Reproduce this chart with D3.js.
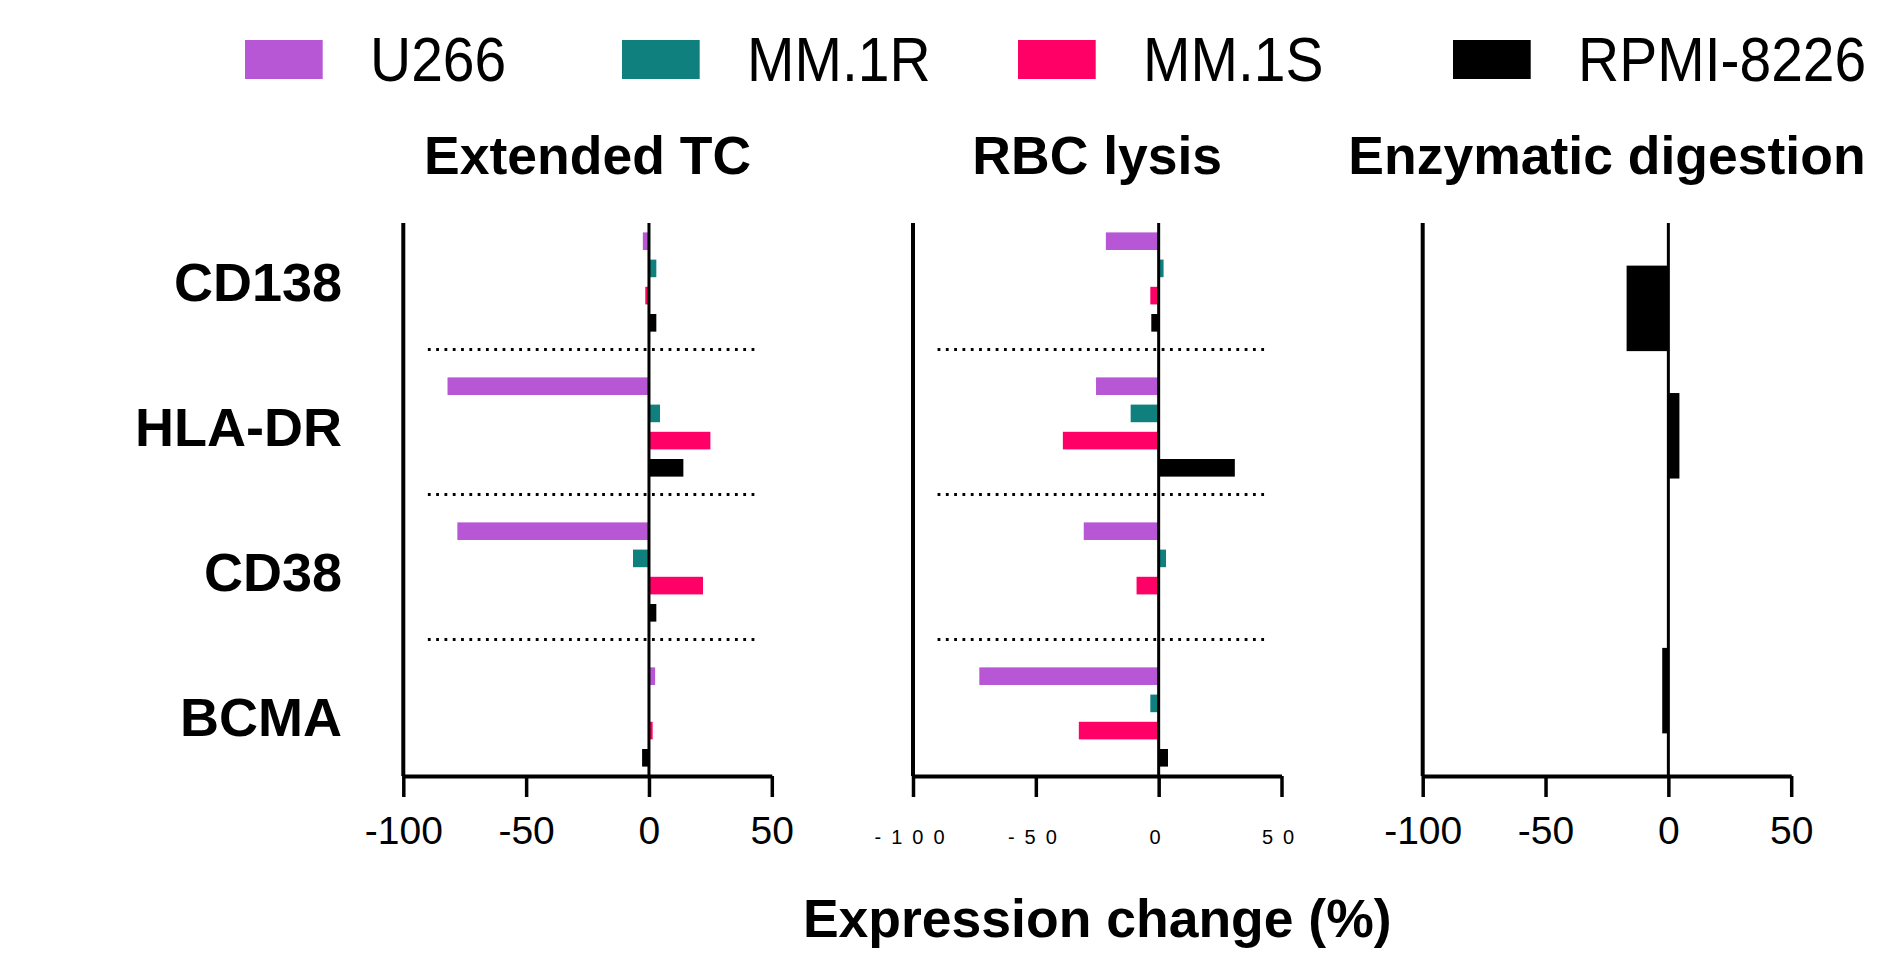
<!DOCTYPE html>
<html>
<head>
<meta charset="utf-8">
<script src="https://cdn.jsdelivr.net/npm/d3@7"></script>
<style>
  body { margin: 0; background: #fff; }
  svg text { font-family: "Liberation Sans", Arial, sans-serif; fill: #000; }
</style>
</head>
<body>
<div id="vis"></div>
<script>
// data
var categories = ['CD138', 'HLA-DR', 'CD38', 'BCMA'];
var series = ['U266', 'MM.1R', 'MM.1S', 'RPMI-8226'];
var colors = ['#B857D6', '#10807E', '#FF0066', '#000000'];
var panelTitles = ['Extended TC', 'RBC lysis', 'Enzymatic digestion'];
var tickValues = [-100, -50, 0, 50];

// rows = categories, columns = series
var extendedTC = [
    [-2.5, 3, -1.5, 3],
    [-82, 4.5, 25, 14],
    [-78, -6.5, 22, 3],
    [2.5, 0, 1.5, -2.8]
];
var rbcLysis = [
    [-21.5, 2, -3.4, -3],
    [-25.5, -11.4, -39, 31],
    [-30.5, 3, -9, 0],
    [-73, -3.4, -32.5, 3.8]
];
// only RPMI-8226 was measured after enzymatic digestion
var enzymaticRPMI = [-17, 4.5, 0, -2.5];

var width = 1883, height = 953,
    plotTop = 223, plotBottom = 776,
    panelLeft = 403.3, panelStep = 509.7, panelWidth = 368.5;

var legendX = [245, 622, 1018, 1453];

var svg = d3.select('#vis')
    .append('svg')
    .attr('width', width)
    .attr('height', height);

// legend
var legend = svg.append('g').attr('class', 'legend');
series.forEach(function(s, i) {
    legend.append('rect')
        .attr('x', legendX[i])
        .attr('y', 40)
        .attr('width', 77.7)
        .attr('height', 39)
        .attr('fill', colors[i]);
    legend.append('text')
        .attr('transform', 'translate(' + (legendX[i] + 125) + ',81) scale(1,1.1)')
        .style('font-size', '57px')
        .text(s);
});

var panels = [
    { title: panelTitles[0], rows: extendedTC, grouped: true, small: false },
    { title: panelTitles[1], rows: rbcLysis, grouped: true, small: true },
    { title: panelTitles[2], rows: enzymaticRPMI, grouped: false, small: false }
];

panels.forEach(function(p, pi) {
    var left = panelLeft + pi * panelStep;

    var x = d3.scaleLinear()
        .domain([-100, 50])
        .range([left, left + panelWidth]);

    var y = d3.scalePoint()
        .domain(categories)
        .range([plotTop, plotBottom])
        .padding(p.grouped ? 0.407 : 0.67);

    var inner = d3.scaleBand()
        .domain(series)
        .range([-54.4, 54.4])
        .paddingInner(0.353)
        .paddingOuter(0.176);

    var g = svg.append('g').attr('class', 'panel');

    g.append('text')
        .attr('x', x(-25))
        .attr('y', 174)
        .attr('text-anchor', 'middle')
        .style('font-size', '53.5px')
        .style('font-weight', 'bold')
        .text(p.title);

    // dotted separators between categories
    if (p.grouped) {
        for (var c = 0; c < categories.length - 1; c++) {
            var yy = (y(categories[c]) + y(categories[c + 1])) / 2 - 5;
            g.append('line')
                .attr('x1', x(-90)).attr('x2', x(43))
                .attr('y1', yy).attr('y2', yy)
                .attr('stroke', '#000')
                .attr('stroke-width', 2.8)
                .attr('stroke-dasharray', '2.8 5.5');
        }
    }

    // bars
    if (p.grouped) {
        categories.forEach(function(cat, ci) {
            series.forEach(function(s, si) {
                var v = p.rows[ci][si];
                g.append('rect')
                    .attr('x', x(Math.min(0, v)))
                    .attr('width', Math.abs(x(v) - x(0)))
                    .attr('y', y(cat) + inner(s))
                    .attr('height', inner.bandwidth())
                    .attr('fill', colors[si]);
            });
        });
    } else {
        categories.forEach(function(cat, ci) {
            var v = p.rows[ci];
            g.append('rect')
                .attr('x', x(Math.min(0, v)))
                .attr('width', Math.abs(x(v) - x(0)))
                .attr('y', y(cat) - 42.75)
                .attr('height', 85.5)
                .attr('fill', colors[3]);
        });
    }

    // left axis line
    g.append('line')
        .attr('x1', x(-100)).attr('x2', x(-100))
        .attr('y1', plotTop).attr('y2', plotBottom)
        .attr('stroke', '#000').attr('stroke-width', 4);

    // zero line
    g.append('line')
        .attr('x1', x(0)).attr('x2', x(0))
        .attr('y1', plotTop).attr('y2', plotBottom)
        .attr('stroke', '#000').attr('stroke-width', 3);

    var xAxis = d3.axisBottom(x)
        .tickValues(tickValues)
        .tickSize(21)
        .tickSizeOuter(0)
        .tickFormat(function(d) { return String(d); });

    var ax = g.append('g')
        .attr('transform', 'translate(0,' + plotBottom + ')')
        .call(xAxis);
    ax.select('.domain').attr('stroke-width', 4).attr('stroke', '#000');
    ax.selectAll('.tick line').attr('stroke-width', 3.5).attr('stroke', '#000');
    ax.selectAll('.tick text')
        .attr('fill', '#000')
        .attr('y', null)
        .attr('dy', null);

    if (p.small) {
        // the middle panel's labels are tiny and spread out in the original
        ax.selectAll('.tick text')
            .attr('transform', 'translate(1,68)')
            .style('font-size', '20px')
            .style('letter-spacing', '10px')
            .style('font-family', '"Liberation Sans", Arial, sans-serif');
    } else {
        ax.selectAll('.tick text')
            .attr('transform', 'translate(0,68)')
            .style('font-size', '39px')
            .style('font-family', '"Liberation Sans", Arial, sans-serif');
    }

    // category labels only on the first panel
    if (pi === 0) {
        categories.forEach(function(cat) {
            svg.append('text')
                .attr('x', 342)
                .attr('y', y(cat) + 19)
                .attr('text-anchor', 'end')
                .style('font-size', '54px')
                .style('font-weight', 'bold')
                .text(cat);
        });
    }
});

svg.append('text')
    .attr('x', panelLeft + panelStep + panelWidth / 2)
    .attr('y', 937)
    .attr('text-anchor', 'middle')
    .style('font-size', '53.5px')
    .style('font-weight', 'bold')
    .text('Expression change (%)');
</script>
</body>
</html>
